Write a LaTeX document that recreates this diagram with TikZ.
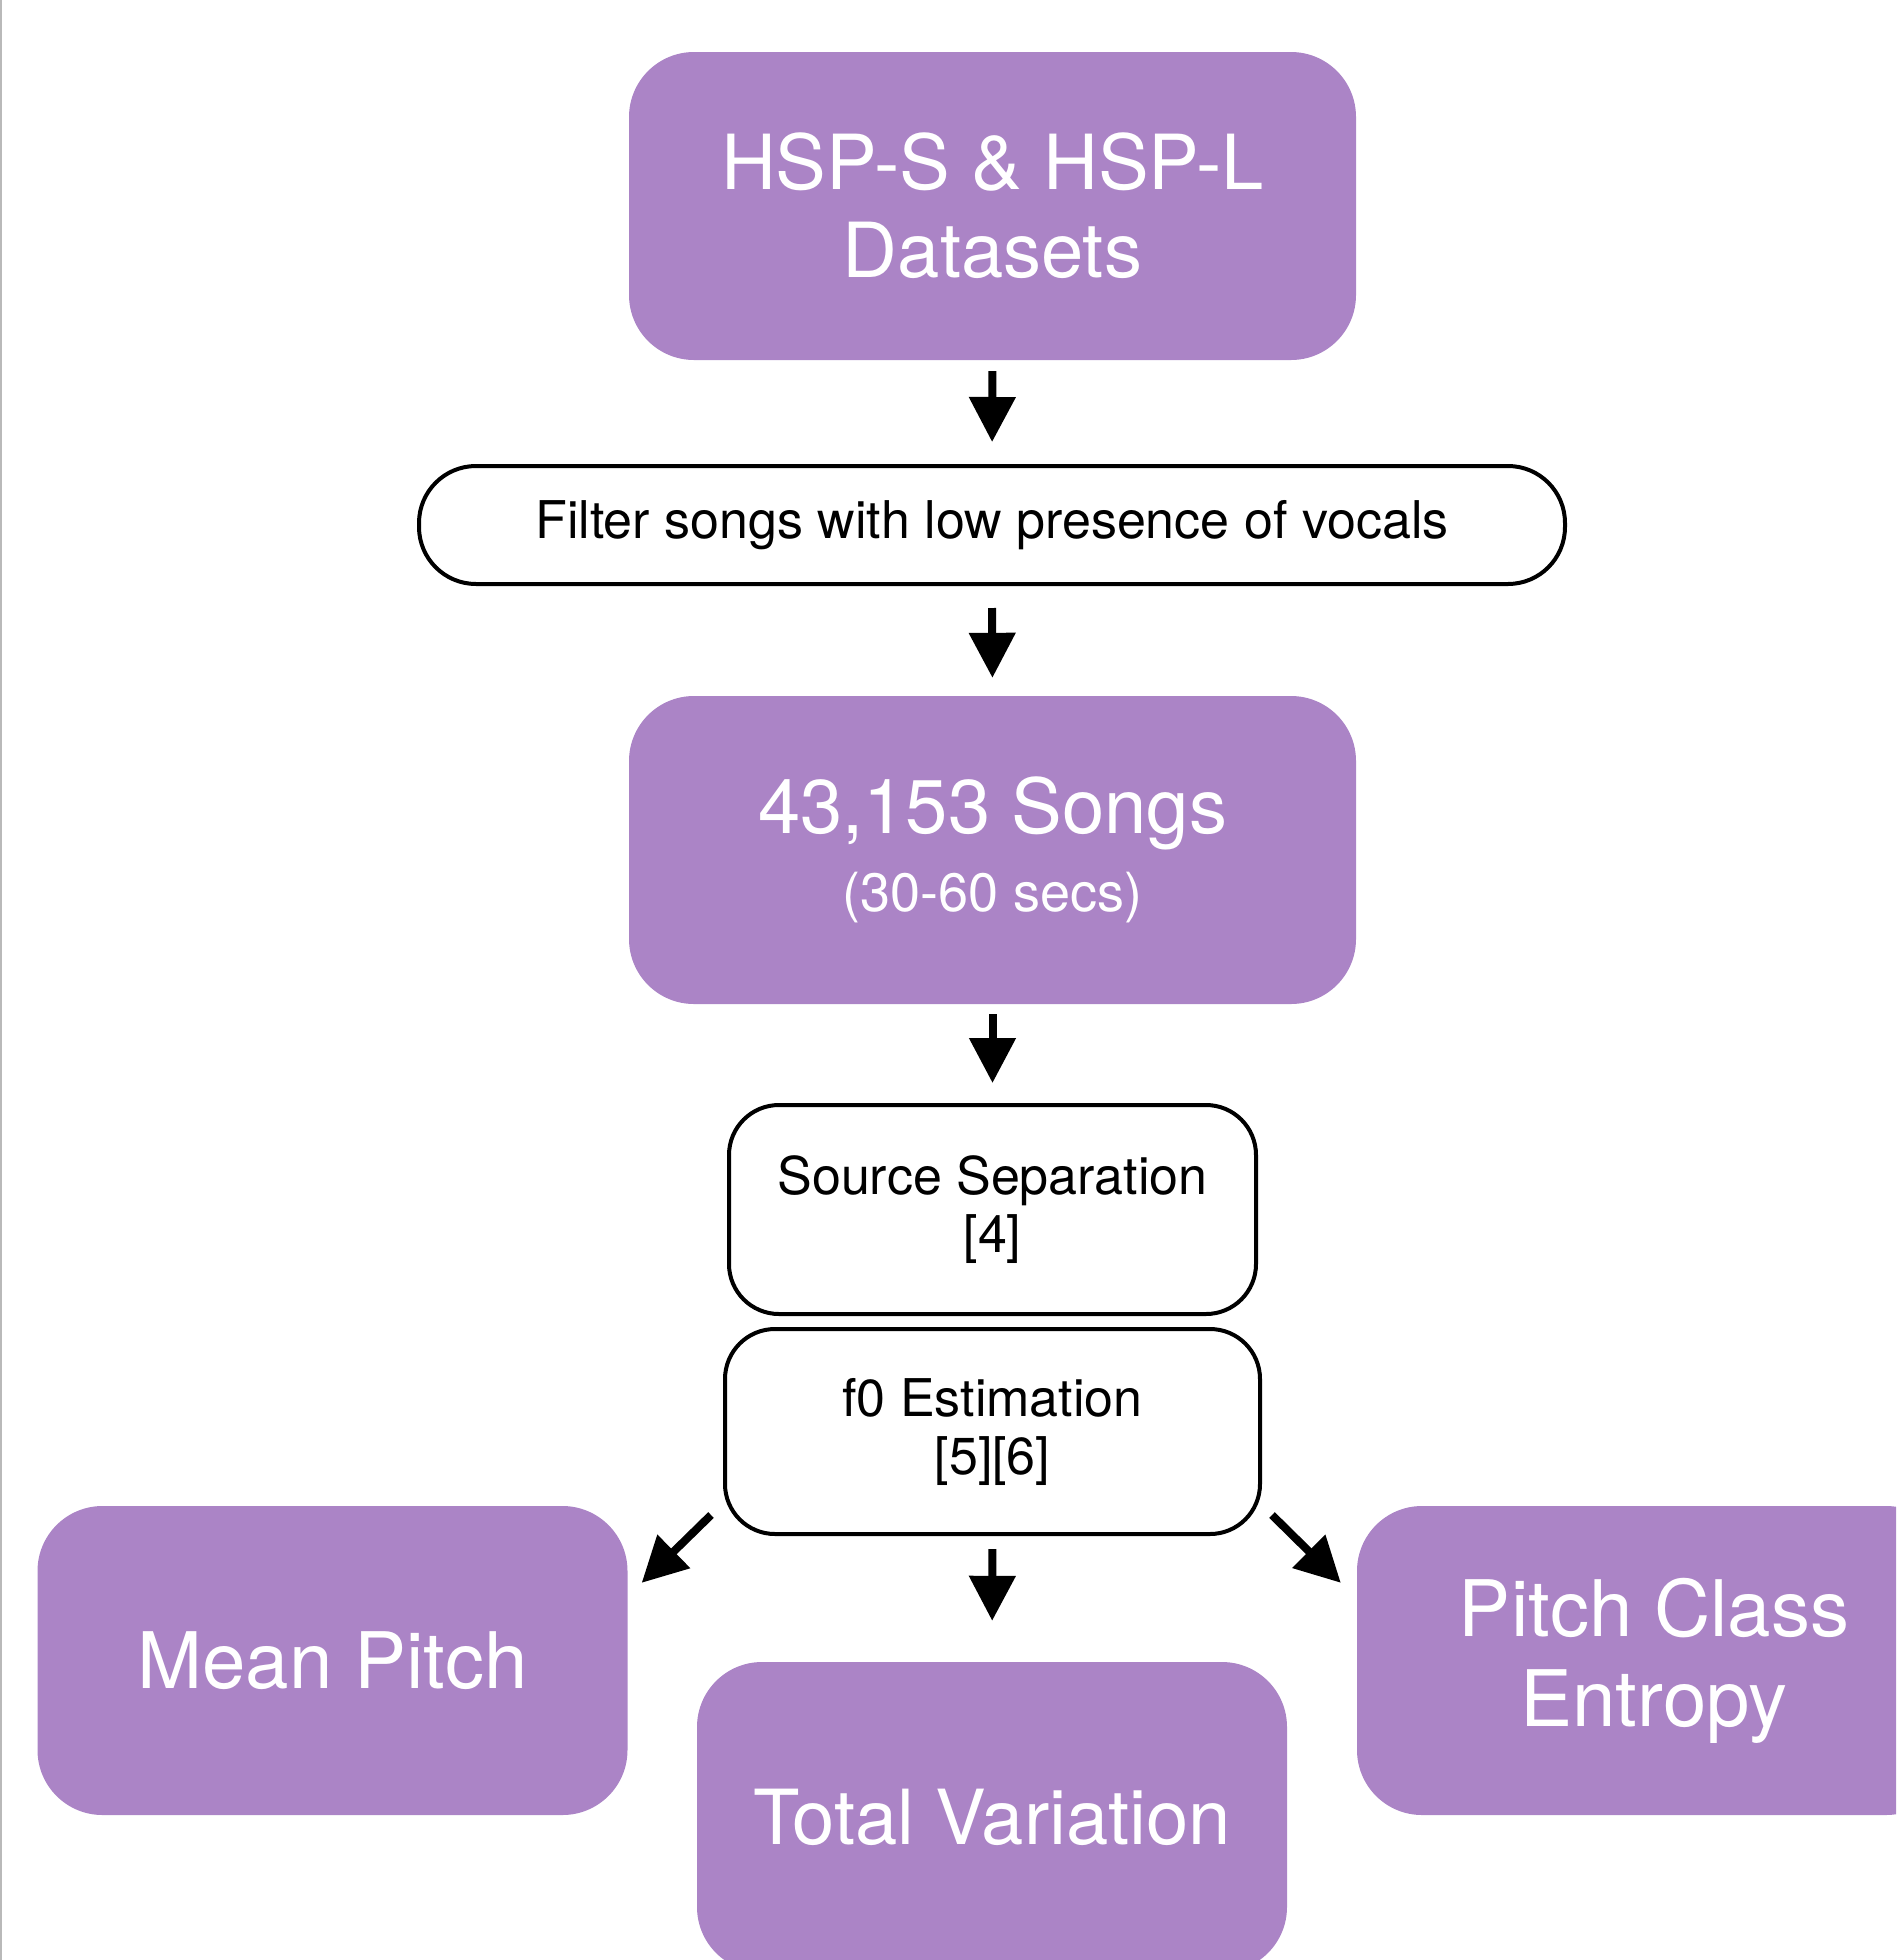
\documentclass[tikz,border=0pt]{standalone}
\usepackage{fontspec}
\setmainfont{TeX Gyre Heros}
\usetikzlibrary{arrows.meta,calc}
\definecolor{lav}{RGB}{171,132,198}
\begin{document}
\begin{tikzpicture}[x=1pt,y=-1pt,
  purplebox/.style={rectangle, fill=lav, rounded corners=65pt, inner sep=0pt, text=white, align=center,
    font=\fontsize{76}{88}\selectfont},
  bigtext/.style={font=\fontsize{78}{90}\selectfont},
  whitebox/.style={rectangle, draw=black, line width=4pt, fill=white, inner sep=0pt, align=center,
    font=\fontsize{52}{58}\selectfont},
  arr/.style={line width=8pt, -{Triangle[length=45pt,width=45pt]}}]
\useasboundingbox (0,0) rectangle (1896,1960);
\clip (0,0) rectangle (1896,1960);
\draw[gray!55, line width=2pt] (1,0) -- (1,1960);

\node[purplebox, minimum width=727pt, minimum height=308pt] (top) at (992.5,206) {HSP-S \& HSP-L\\Datasets};
\node[whitebox, rounded corners=57pt, minimum width=1146pt, minimum height=118pt] (filter) at (992,525) {Filter songs with low presence of vocals};
\node[purplebox, minimum width=727pt, minimum height=308pt] (songs) at (992.5,850) {43,153 Songs\\[-10pt]{\fontsize{54}{60}\selectfont (30-60 secs)}};
\node[whitebox, rounded corners=50pt, minimum width=527pt, minimum height=209pt] (src) at (992.5,1209.5) {Source Separation\\{}[4]};
\node[whitebox, rounded corners=50pt, minimum width=535pt, minimum height=205pt] (f0) at (992.5,1431.5) {f0 Estimation\\{}[5][6]};
\node[purplebox, bigtext, minimum width=590pt, minimum height=309pt] (mp) at (332.5,1660.5) {Mean Pitch};
\node[purplebox, minimum width=590pt, minimum height=310pt] (tv) at (992,1817) {Total Variation};
\node[purplebox, bigtext, minimum width=594pt, minimum height=309pt] (pce) at (1654,1660.5) {Pitch Class\\Entropy};

\draw[arr, shorten <=11pt, shorten >=22pt] (top.south) -- (filter.north);
\draw[arr, shorten <=22pt, shorten >=18pt] (filter.south) -- (songs.north);
\draw[arr, shorten <=10pt, shorten >=20pt] (songs.south) -- (src.north);
\draw[arr, shorten <=13pt, shorten >=41pt] (f0.south) -- (tv.north);
\draw[arr] ($(f0.south west)+(-12,-21)$) -- ($(mp.north east)+(14,77)$);
\draw[arr] ($(f0.south east)+(10,-21)$) -- ($(pce.north west)+(-16,77)$);
\end{tikzpicture}
\end{document}
